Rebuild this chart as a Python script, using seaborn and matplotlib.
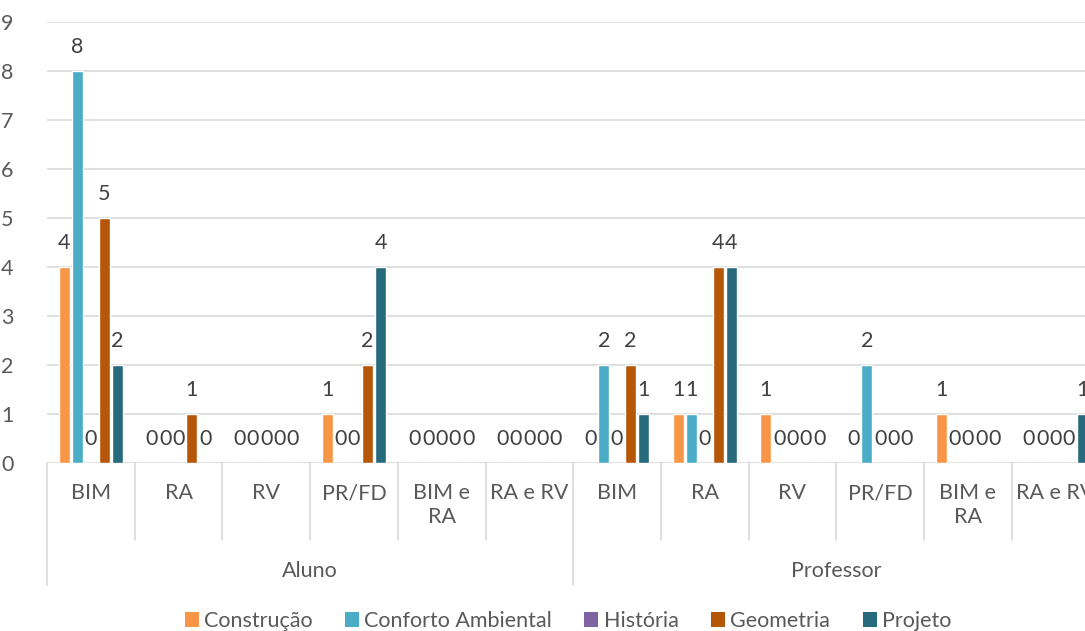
import matplotlib
matplotlib.use("Agg")
import matplotlib.pyplot as plt
import pandas as pd
import seaborn as sns
from matplotlib.patches import Patch

# Grupos de respondentes e tecnologias avaliadas
grupos = ["Aluno", "Professor"]
tecnologias = ["BIM", "RA", "RV", "PR/FD", "BIM e\nRA", "RA e RV"]
series = ["Construção", "Conforto Ambiental", "História", "Geometria", "Projeto"]

# Valores por série (Aluno: 6 tecnologias, depois Professor: 6 tecnologias)
construcao = [4, 0, 0, 1, 0, 0, 0, 1, 1, 0, 1, 0]
conforto_ambiental = [8, 0, 0, 0, 0, 0, 2, 1, 0, 2, 0, 0]
historia = [0, 0, 0, 0, 0, 0, 0, 0, 0, 0, 0, 0]
geometria = [5, 1, 0, 2, 0, 0, 2, 4, 0, 0, 0, 0]
projeto = [2, 0, 0, 4, 0, 0, 1, 4, 0, 0, 0, 1]

cores = ["#F79646", "#4BACC6", "#8064A2", "#B65708", "#276A7C"]

valores = [construcao, conforto_ambiental, historia, geometria, projeto]
posicoes = [f"{g}|{t}" for g in grupos for t in tecnologias]
linhas = []
for serie, vals in zip(series, valores):
    for pos, v in zip(posicoes, vals):
        linhas.append({"pos": pos, "serie": serie, "valor": v})
df = pd.DataFrame(linhas)

sns.set_theme(style="white")
plt.rcParams["font.family"] = ["Lato", "DejaVu Sans"]

FS = 15.5
W, H = 1085, 631
fig = plt.figure(figsize=(W / 100, H / 100), dpi=100)
x0, y0, cat_w = 47, 463, 87.7
ax = fig.add_axes([x0 / W, (H - y0) / H, 12 * cat_w / W, 441 / H])

sns.barplot(data=df, x="pos", y="valor", hue="serie", order=posicoes,
            hue_order=series, palette=cores, saturation=1, width=0.76,
            gap=0.18, legend=False, ax=ax)

for cont in ax.containers:
    ax.bar_label(cont, fmt="%d", padding=10, fontsize=FS, color="#404040")

grid_c = "#D9D9D9"
ax.set_ylim(0, 9)
ax.set_yticks(range(10))
ax.yaxis.grid(True, color=grid_c, linewidth=1.2)
ax.set_axisbelow(True)
for s in ax.spines.values():
    s.set_visible(False)
ax.tick_params(axis="y", length=0, pad=24, labelsize=FS, labelcolor="#595959")
ax.set_xticks([])
ax.set_xlabel("")
ax.set_ylabel("")
ax.set_xlim(-0.5, 11.5)


def frac(ypix):
    return (y0 - ypix) / 441


tr = ax.get_xaxis_transform()
# divisões das categorias e dos grupos
for i in range(13):
    xb = i - 0.5
    fundo = 585 if i % 6 == 0 else 540
    ax.plot([xb, xb], [0, frac(fundo)], transform=tr, clip_on=False,
            color=grid_c, linewidth=1.2)

for i, pos in enumerate(posicoes):
    rotulo = pos.split("|")[1]
    ax.text(i, frac(483), rotulo, transform=tr, ha="center", va="top",
            fontsize=FS, color="#595959", linespacing=1.25, clip_on=False)

for j, g in enumerate(grupos):
    ax.text(j * 6 + 2.5, frac(571), g, transform=tr, ha="center",
            va="center", fontsize=FS, color="#595959", clip_on=False)

handles = [Patch(facecolor=c, edgecolor="none") for c in cores]
fig.legend(handles, series, loc="center", bbox_to_anchor=(568 / W, 1 - 621 / H),
           ncol=5, frameon=False, handlelength=0.65, handleheight=0.65,
           handletextpad=0.25, columnspacing=1.5, fontsize=FS,
           labelcolor="#595959")

fig.savefig("out.png", dpi=100)
